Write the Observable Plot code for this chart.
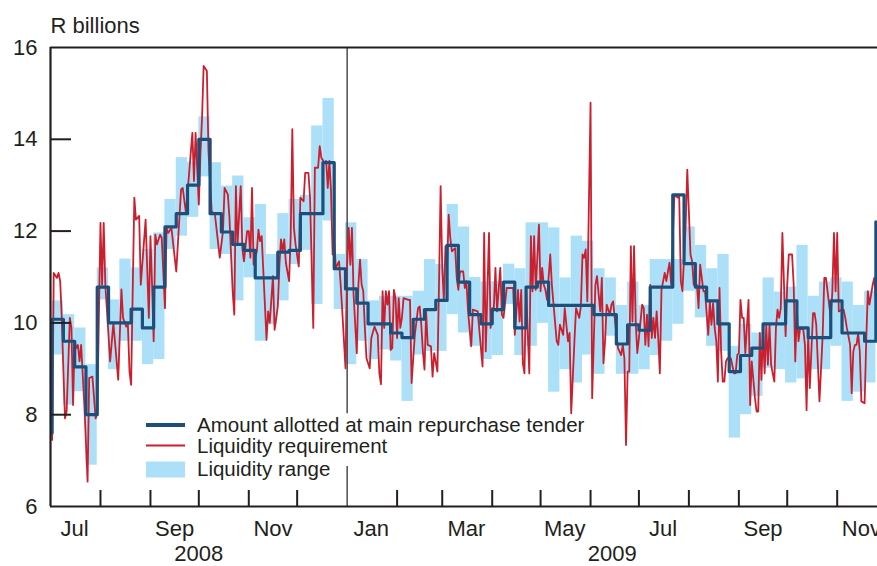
<!DOCTYPE html>
<html>
<head>
<meta charset="utf-8">
<script src="https://cdn.jsdelivr.net/npm/d3@7"></script>
<script src="https://cdn.jsdelivr.net/npm/@observablehq/plot@0.6"></script>
<style>
  html, body { margin: 0; padding: 0; background: #fff; overflow: hidden; }
</style>
</head>
<body>
<div id="chart"></div>
<script>
// ---------- DATA ----------
const weekDates = [
  "2008-06-25","2008-07-02","2008-07-09","2008-07-16","2008-07-23","2008-07-30","2008-08-06","2008-08-13","2008-08-20","2008-08-27",
  "2008-09-03","2008-09-10","2008-09-17","2008-09-24","2008-10-01","2008-10-08","2008-10-15","2008-10-22","2008-10-29",
  "2008-11-05","2008-11-12","2008-11-19","2008-11-26","2008-12-03","2008-12-10","2008-12-17","2008-12-24","2008-12-31",
  "2009-01-07","2009-01-14","2009-01-21","2009-01-28","2009-02-04","2009-02-11","2009-02-18","2009-02-25",
  "2009-03-04","2009-03-11","2009-03-18","2009-03-25","2009-04-01","2009-04-08","2009-04-15","2009-04-22","2009-04-29",
  "2009-05-06","2009-05-13","2009-05-20","2009-05-27","2009-06-03","2009-06-10","2009-06-17","2009-06-24",
  "2009-07-01","2009-07-08","2009-07-15","2009-07-22","2009-07-29","2009-08-05","2009-08-12","2009-08-19","2009-08-26",
  "2009-09-02","2009-09-09","2009-09-16","2009-09-23","2009-09-30","2009-10-07","2009-10-14","2009-10-21","2009-10-28",
  "2009-11-04","2009-11-11","2009-11-18","2009-11-25"
];
const amountAllotted = [
  7.6, 10.08, 9.6, 9.04, 8.0, 10.78, 10.0, 10.0, 10.3, 9.89,
  10.78, 12.09, 12.38, 13.0, 14.0, 12.38, 11.98, 11.71, 11.58,
  10.98, 10.98, 11.54, 11.58, 12.38, 12.38, 13.49, 11.18, 10.74,
  10.43, 9.98, 9.98, 9.78, 9.68, 10.08, 10.29, 10.49,
  11.69, 10.89, 10.18, 9.98, 10.29, 10.89, 9.89, 10.78, 10.89,
  10.38, 10.38, 10.38, 10.38, 10.18, 10.18, 9.54, 9.96,
  9.84, 10.78, 10.78, 12.79, 11.29, 10.78, 10.48, 9.98, 8.94,
  9.29, 9.45, 9.98, 9.98, 10.48, 9.89, 9.68, 9.68, 10.48,
  9.78, 9.78, 9.6, 12.2
];
const rangeLow = [
  null, 9.30, 8.21, 8.50, 6.90, 10.5, 8.98, 9.6, 9.6, 9.09,
  9.2, 11.6, 11.89, 12.3, 13.18, 11.6, 11.49, 10.48, 10.98,
  9.6, 9.96, 10.48, 11.27, 11.58, 10.40, 12.22, 10.29, 9.09,
  9.6, 9.2, 9.41, 9.17, 8.29, 9.3, 9.38, 9.38,
  10.18, 9.78, 9.49, 9.2, 9.29, 10.4, 9.29, 9.49, 9.99,
  8.49, 8.98, 8.69, 9.3, 8.88, 9.71, 8.88, 8.88,
  8.98, 9.29, 9.6, 9.97, 10.69, 10.11, 9.49, 9.38, 7.49,
  8.0, 8.4, 9.01, 8.98, 8.69, 8.78, 8.98, 8.98, 9.49,
  8.29, 8.49, 8.69, null
];
const rangeHigh = [
  null, 10.48, 10.18, 9.89, 9.09, 11.2, 10.5, 11.39, 11.2, 11.6,
  11.96, 12.69, 13.6, 13.5, 14.49, 13.49, 12.98, 13.2, 12.29,
  12.58, 11.49, 12.38, 12.69, 12.78, 14.29, 14.89, 11.49, 12.18,
  11.38, 10.48, 10.58, 10.58, 10.58, 10.69, 11.38, 11.27,
  12.58, 12.09, 10.99, 10.89, 10.9, 11.28, 11.18, 12.18, 12.18,
  12.07, 10.98, 11.89, 11.78, 11.18, 10.98, 10.38, 10.89,
  10.38, 11.38, 11.38, 11.38, 12.09, 11.69, 11.18, 11.49, 9.49,
  9.97, 9.78, 10.98, 10.67, 10.78, 11.69, 10.58, 10.89, 10.98,
  10.89, 10.38, 10.69, null
];

const reqDates = [
  "2008-07-02","2008-07-03","2008-07-05","2008-07-06","2008-07-07","2008-07-08","2008-07-09","2008-07-10","2008-07-11","2008-07-13",
  "2008-07-14","2008-07-15","2008-07-16","2008-07-17","2008-07-18","2008-07-19","2008-07-20","2008-07-22","2008-07-24","2008-07-25",
  "2008-07-27","2008-07-29","2008-07-30","2008-08-01","2008-08-02","2008-08-03","2008-08-04","2008-08-07","2008-08-09","2008-08-12",
  "2008-08-14","2008-08-15","2008-08-17","2008-08-18","2008-08-19","2008-08-20","2008-08-22","2008-08-23","2008-08-25","2008-08-26",
  "2008-08-29","2008-08-31","2008-09-01","2008-09-02","2008-09-03","2008-09-04","2008-09-05","2008-09-07","2008-09-08","2008-09-10",
  "2008-09-11","2008-09-12","2008-09-14","2008-09-17","2008-09-20","2008-09-21","2008-09-23","2008-09-27","2008-09-28","2008-09-29",
  "2008-10-01","2008-10-02","2008-10-03","2008-10-04","2008-10-06","2008-10-07","2008-10-09","2008-10-11","2008-10-14","2008-10-16",
  "2008-10-17","2008-10-19","2008-10-20","2008-10-22","2008-10-23","2008-10-24","2008-10-25","2008-10-27","2008-10-28","2008-10-29",
  "2008-10-31","2008-11-01","2008-11-02","2008-11-03","2008-11-04","2008-11-06","2008-11-07","2008-11-08","2008-11-09","2008-11-11",
  "2008-11-12","2008-11-13","2008-11-14","2008-11-16","2008-11-17","2008-11-19","2008-11-20","2008-11-21","2008-11-22","2008-11-23",
  "2008-11-24","2008-11-26","2008-11-27","2008-11-28","2008-11-29","2008-11-30","2008-12-02","2008-12-03","2008-12-05","2008-12-06",
  "2008-12-08","2008-12-09","2008-12-11","2008-12-12","2008-12-14","2008-12-15","2008-12-16","2008-12-18","2008-12-19","2008-12-20",
  "2008-12-21","2008-12-22","2008-12-23","2008-12-24","2008-12-25","2008-12-27","2008-12-28","2008-12-29","2008-12-31",
  "2009-01-01","2009-01-02","2009-01-03","2009-01-04","2009-01-05","2009-01-07","2009-01-08","2009-01-09","2009-01-10","2009-01-11",
  "2009-01-12","2009-01-13","2009-01-15","2009-01-16","2009-01-18","2009-01-20","2009-01-21","2009-01-22","2009-01-23","2009-01-24",
  "2009-01-25","2009-01-26","2009-01-27","2009-01-28","2009-01-29","2009-01-30","2009-01-31","2009-02-01","2009-02-02","2009-02-03",
  "2009-02-04","2009-02-05","2009-02-08","2009-02-09","2009-02-10","2009-02-12","2009-02-14","2009-02-15","2009-02-16","2009-02-17",
  "2009-02-18","2009-02-19","2009-02-20","2009-02-22","2009-02-23","2009-02-24","2009-02-26","2009-02-27","2009-02-28","2009-03-01",
  "2009-03-02","2009-03-03","2009-03-04","2009-03-05","2009-03-06","2009-03-07","2009-03-09","2009-03-10","2009-03-11","2009-03-12",
  "2009-03-14","2009-03-15","2009-03-16","2009-03-17","2009-03-19","2009-03-20","2009-03-23","2009-03-26","2009-03-27","2009-03-28",
  "2009-03-30","2009-03-31","2009-04-01","2009-04-02","2009-04-03","2009-04-04","2009-04-06","2009-04-07","2009-04-08","2009-04-10",
  "2009-04-14","2009-04-15","2009-04-17","2009-04-18","2009-04-19","2009-04-20","2009-04-21","2009-04-22","2009-04-24","2009-04-25",
  "2009-04-26","2009-04-27","2009-04-28","2009-04-30","2009-05-01","2009-05-02","2009-05-03","2009-05-04","2009-05-05","2009-05-07",
  "2009-05-08","2009-05-11","2009-05-12","2009-05-13","2009-05-15","2009-05-16","2009-05-18","2009-05-19","2009-05-20","2009-05-22",
  "2009-05-23","2009-05-25","2009-05-26","2009-05-27","2009-05-28","2009-05-29","2009-05-30","2009-06-01","2009-06-02","2009-06-04",
  "2009-06-05","2009-06-07","2009-06-08","2009-06-09","2009-06-10","2009-06-11","2009-06-13","2009-06-14","2009-06-15","2009-06-16",
  "2009-06-18","2009-06-20","2009-06-21","2009-06-22","2009-06-23","2009-06-24","2009-06-25","2009-06-26","2009-06-27","2009-06-28",
  "2009-06-29","2009-06-30","2009-07-01","2009-07-03","2009-07-04","2009-07-05","2009-07-06","2009-07-07","2009-07-08","2009-07-09",
  "2009-07-10","2009-07-11","2009-07-12","2009-07-13","2009-07-14","2009-07-15","2009-07-17","2009-07-18","2009-07-19","2009-07-20",
  "2009-07-21","2009-07-23","2009-07-25","2009-07-26","2009-07-27","2009-07-28","2009-07-30","2009-07-31","2009-08-02","2009-08-03",
  "2009-08-04","2009-08-06","2009-08-07","2009-08-08","2009-08-10","2009-08-11","2009-08-13","2009-08-14","2009-08-15","2009-08-16",
  "2009-08-17","2009-08-18","2009-08-19","2009-08-20","2009-08-21","2009-08-22","2009-08-23","2009-08-24","2009-08-25","2009-08-27",
  "2009-08-29","2009-08-30","2009-08-31","2009-09-01","2009-09-02","2009-09-03","2009-09-04","2009-09-05","2009-09-07","2009-09-08",
  "2009-09-09","2009-09-11","2009-09-12","2009-09-13","2009-09-14","2009-09-15","2009-09-16","2009-09-17","2009-09-18","2009-09-19",
  "2009-09-20","2009-09-21","2009-09-22","2009-09-23","2009-09-24","2009-09-25","2009-09-26","2009-09-27","2009-09-28","2009-09-30",
  "2009-10-01","2009-10-02","2009-10-04","2009-10-05","2009-10-06","2009-10-07","2009-10-08","2009-10-09","2009-10-11","2009-10-12",
  "2009-10-13","2009-10-14","2009-10-15","2009-10-17","2009-10-18","2009-10-19","2009-10-20","2009-10-21","2009-10-23","2009-10-24",
  "2009-10-25","2009-10-27","2009-10-28","2009-10-29","2009-10-30","2009-10-31","2009-11-01","2009-11-02","2009-11-04","2009-11-05",
  "2009-11-06","2009-11-07","2009-11-09","2009-11-10","2009-11-11","2009-11-12","2009-11-13","2009-11-14","2009-11-15","2009-11-16",
  "2009-11-18","2009-11-19","2009-11-20","2009-11-21","2009-11-23","2009-11-24","2009-11-25"
];
const reqValues = [
  7.45, 11.09, 10.98, 11.09, 10.91, 10.11, 8.94, 7.92, 8.07, 10.11,
  9.89, 8.21, 9.6, 9.45, 9.52, 9.16, 9.52, 8.21, 6.54, 8.8,
  8.83, 7.92, 8.03, 12.18, 10.83, 12.18, 10.83, 9.16, 10.0, 8.76,
  10.73, 10.11, 9.92, 9.96, 8.94, 8.65, 12.73, 12.25, 12.33, 10.83,
  12.25, 10.11, 11.89, 10.83, 9.6, 11.92, 11.71, 11.92, 11.85, 10.32,
  12.07, 11.96, 12.07, 11.12, 12.91, 12.94, 12.40, 14.14, 13.09, 14.14,
  12.58, 13.67, 14.47, 15.6, 15.49, 13.74, 12.43, 12.36, 11.42, 12.0,
  12.94, 12.8, 12.29, 10.69, 10.18, 12.98, 11.71, 12.98, 11.63, 11.34,
  12.0, 12.0, 11.42, 12.94, 11.27, 11.56, 12.03, 11.78, 11.89, 10.4,
  9.63, 10.25, 10.0, 11.02, 9.85, 10.36, 11.27, 11.82, 11.56, 11.82,
  11.31, 10.91, 11.89, 14.22, 12.07, 11.71, 11.23, 12.73, 12.65, 13.27,
  13.27, 12.73, 9.89, 13.38, 13.38, 13.85, 13.6, 13.49, 13.53, 12.94,
  13.53, 12.87, 11.49, 11.78, 11.2, 11.34, 10.83, 10.25, 9.01,
  11.27, 12.07, 11.27, 12.07, 10.62, 9.34, 10.83, 11.38, 10.83, 10.69,
  9.89, 9.23, 9.01, 9.67, 9.92, 9.74, 8.9, 8.66, 10.69, 9.89,
  10.69, 10.4, 10.69, 9.41, 9.45, 10.72, 10.54, 9.67, 10.54, 9.89,
  10.11, 10.54, 10.5, 10.5, 8.69, 9.74, 10.32, 10.36, 9.96, 9.38,
  8.98, 10.25, 9.52, 9.49, 8.83, 9.34, 8.94, 10.83, 12.98, 11.2,
  10.5, 11.67, 11.2, 12.36, 11.85, 11.56, 11.63, 10.98, 10.72, 11.12,
  11.12, 10.76, 10.91, 10.25, 9.49, 10.29, 10.25, 9.05, 11.96, 9.38,
  11.96, 9.89, 10.32, 10.32, 11.2, 10.25, 11.2, 10.18, 10.11, 10.76,
  10.76, 9.74, 10.72, 10.03, 10.72, 9.12, 8.9, 10.76, 8.9, 11.89,
  10.69, 11.89, 10.72, 12.14, 10.69, 11.2, 10.83, 10.72, 10.5, 11.49,
  10.83, 9.6, 9.52, 9.96, 9.74, 10.32, 9.6, 9.78, 8.03, 9.6,
  10.32, 10.11, 10.36, 11.49, 11.42, 11.6, 10.47, 14.8, 8.36, 10.83,
  11.02, 10.25, 10.98, 9.12, 9.6, 10.4, 10.18, 10.4, 10.47, 10.11,
  9.45, 9.3, 9.52, 9.23, 7.34, 8.94, 8.94, 11.67, 10.03, 11.67,
  10.03, 9.34, 9.67, 10.4, 10.32, 9.52, 10.18, 9.49, 10.83, 9.67,
  10.11, 9.67, 10.25, 9.67, 8.9, 10.72, 11.09, 10.91, 11.12, 11.31,
  10.83, 12.79, 12.73, 12.76, 10.91, 10.69, 12.14, 13.34, 11.49, 11.34,
  10.83, 10.83, 10.32, 11.27, 10.69, 10.69, 9.74, 10.47, 9.96, 10.43,
  9.89, 9.6, 8.72, 10.76, 9.38, 8.72, 8.72, 9.16, 9.23, 9.23,
  8.9, 8.9, 9.3, 9.34, 10.5, 10.11, 10.11, 9.34, 10.5, 8.21,
  9.16, 8.36, 8.07, 8.07, 9.78, 8.76, 9.81, 8.9, 9.96, 9.09,
  9.96, 9.09, 8.9, 8.72, 9.89, 10.29, 10.11, 10.32, 11.96, 9.71,
  10.83, 11.49, 11.49, 10.83, 9.16, 10.29, 9.6, 9.89, 9.85, 9.52,
  8.1, 9.74, 8.58, 10.21, 10.21, 9.96, 9.12, 8.29, 9.74, 10.98,
  10.98, 10.4, 10.11, 10.69, 11.96, 10.69, 11.96, 10.25, 10.29, 10.29,
  10.11, 9.89, 9.52, 8.47, 9.38, 9.52, 9.52, 9.78, 9.38, 8.29,
  8.25, 9.6, 10.69, 10.4, 10.83, 10.98, 10.5
];

const domainStart = "2008-07-01";
const domainEnd = "2009-11-26";
const yTicks = [6, 8, 10, 12, 14, 16];
const yInnerTicks = [8, 10, 12, 14];
const monthTickDates = [
  "2008-08-01","2008-09-01","2008-10-01","2008-11-01","2008-12-01",
  "2009-02-01","2009-03-01","2009-04-01","2009-05-01","2009-06-01","2009-07-01",
  "2009-08-01","2009-09-01","2009-10-01","2009-11-01"
];
const monthLabelDates = [
  "2008-07-16","2008-09-16","2008-11-16","2009-01-16","2009-03-16",
  "2009-05-16","2009-07-16","2009-09-16","2009-11-16"
];
const yearLabels = ["2008", "2009"];
const yearDividerDate = "2009-01-01";
const legendGap = [8.02, 6.87]; // the year divider is interrupted where the legend text sits
const legendItems = ["Amount allotted at main repurchase tender", "Liquidity requirement", "Liquidity range"];
const yLabelText = "R billions";

// ---------- BUILD ----------
const parse = d3.utcParse("%Y-%m-%d");
const x0 = parse(domainStart), x1 = parse(domainEnd);
const weeks = weekDates.map((d, i) => ({
  date: parse(d),
  next: i + 1 < weekDates.length ? parse(weekDates[i + 1]) : null,
  amount: amountAllotted[i], lo: rangeLow[i], hi: rangeHigh[i]
}));
const ranges = weeks.filter(d => d.lo != null && d.hi != null && d.next);
const req = reqDates.map((d, i) => ({date: parse(d), value: reqValues[i]}));
const divider = parse(yearDividerDate);
const dividerSegs = [
  {date: divider, y1: 16, y2: legendGap[0]},
  {date: divider, y1: legendGap[1], y2: 6}
];
const years = yearLabels.map(y => {
  const a = d3.max([parse(y + "-01-01"), x0]);
  const b = d3.min([parse((+y + 1) + "-01-01"), x1]);
  return {label: y, date: new Date((+a + +b) / 2)};
});

const ink = "#231f20";
const font = "'Liberation Sans', Arial, Helvetica, sans-serif";

const chart = Plot.plot({
  width: 877,
  height: 566,
  marginLeft: 50,
  marginRight: 0,
  marginTop: 47,
  marginBottom: 60,
  style: {fontFamily: font, color: ink, background: "white", overflow: "visible"},
  x: {type: "utc", domain: [x0, x1], label: null},
  y: {domain: [6, 16], label: null},
  marks: [
    Plot.rect(ranges, {x1: "date", x2: "next", y1: "lo", y2: "hi", fill: "#abe0f8"}),
    Plot.ruleX(dividerSegs, {x: "date", y1: "y1", y2: "y2", stroke: ink, strokeWidth: 1.2}),
    Plot.line(req, {x: "date", y: "value", stroke: "#cc1f2e", strokeWidth: 1.8, clip: true}),
    Plot.line(weeks, {x: "date", y: "amount", curve: "step-after", stroke: "#1e4f7b", strokeWidth: 3.2, clip: true}),
    Plot.ruleY([6, 16], {stroke: ink, strokeWidth: 2.2}),
    Plot.ruleX([x0], {stroke: ink, strokeWidth: 2.2}),
    Plot.tickY(yInnerTicks, {stroke: ink, strokeWidth: 2, insetRight: 827 - 21}),
    Plot.tickX(monthTickDates.map(parse), {stroke: ink, strokeWidth: 2, insetTop: 459 - 16}),
    Plot.axisY({ticks: yTicks, tickSize: 0, tickPadding: 13, fontSize: 22, label: null, fill: ink}),
    Plot.axisX({ticks: monthLabelDates.map(parse), tickSize: 0, tickPadding: 14, tickFormat: d3.utcFormat("%b"), fontSize: 22, label: null, fill: ink}),
    Plot.text(years, {x: "date", text: "label", frameAnchor: "bottom", lineAnchor: "top", dy: 39, fontSize: 22, fill: ink}),
    Plot.text([yLabelText], {frameAnchor: "top-left", textAnchor: "start", lineAnchor: "bottom", dy: -15, fontSize: 22, fill: ink})
  ]
});
document.getElementById("chart").appendChild(chart);

// legend (inside plot area, lower left)
const svg = d3.select(chart);
const lg = svg.append("g")
  .attr("font-family", font).attr("font-size", 20.5).attr("fill", ink)
  .attr("text-anchor", "start");
lg.append("line").attr("x1", 146).attr("x2", 185).attr("y1", 425).attr("y2", 425)
  .attr("stroke", "#1e4f7b").attr("stroke-width", 4);
lg.append("line").attr("x1", 146).attr("x2", 185).attr("y1", 445.5).attr("y2", 445.5)
  .attr("stroke", "#cc1f2e").attr("stroke-width", 2);
lg.append("rect").attr("x", 146).attr("y", 461.5).attr("width", 39).attr("height", 16)
  .attr("fill", "#abe0f8");
[432, 453, 476].forEach((yy, i) => {
  lg.append("text").attr("x", 197).attr("y", yy).attr("text-anchor", "start").text(legendItems[i]);
});
</script>
</body>
</html>
